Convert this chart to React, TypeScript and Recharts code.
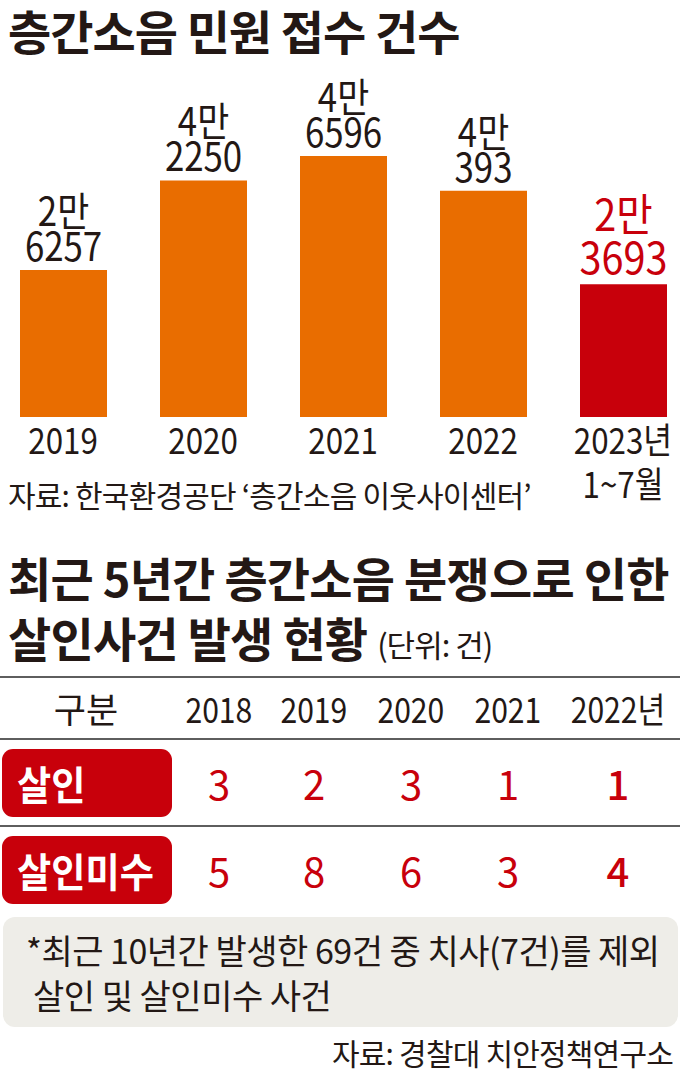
import React from 'react';
import { BarChart, Bar, XAxis, YAxis, Cell, LabelList } from 'recharts';

// 층간소음 민원 접수 건수
const CATEGORIES = ['2019', '2020', '2021', '2022', '2023년'];
const SUB_LABELS = ['', '', '', '', '1~7월'];
const COMPLAINTS = [26257, 42250, 46596, 40393, 23693];

// 살인사건 발생 현황 (단위: 건)
const TABLE_YEARS = ['2018', '2019', '2020', '2021', '2022년'];
const MURDER = [3, 2, 3, 1, 1];
const ATTEMPTED = [5, 8, 6, 3, 4];

const ORANGE = '#e96d00';
const RED = '#c8000b';
const INK = '#231815';
const FONT = "'Noto Sans CJK KR', 'Noto Sans', sans-serif";

const chartData = CATEGORIES.map((c, i) => ({ year: c, sub: SUB_LABELS[i], value: COMPLAINTS[i] }));
const lastIndex = COMPLAINTS.length - 1;

const Narrow = ({ k, children, origin = 'left' }: { k: number; children: React.ReactNode; origin?: string }) => (
  <span style={{ display: 'inline-block', transform: `scaleX(${k})`, transformOrigin: origin, whiteSpace: 'nowrap' }}>
    {children}
  </span>
);

const ValueLabel = (props: any) => {
  const { x, y, width, value, index } = props;
  const cx = x + width / 2;
  const man = Math.floor(value / 10000);
  const rest = value % 10000;
  const hot = index === lastIndex;
  return (
    <g transform={`translate(${cx},${y})`}>
      <text
        transform={`scale(${hot ? 0.9 : 0.87},1)`}
        textAnchor="middle"
        fontFamily={FONT}
        fontSize={hot ? 44 : 40}
        fill={hot ? RED : INK}
      >
        <tspan x={0} y={hot ? -53 : -44}>{`${man}만`}</tspan>
        <tspan x={0} y={hot ? -10 : -9}>{rest}</tspan>
      </text>
    </g>
  );
};

const YearTick = (props: any) => {
  const { x, y, payload, index } = props;
  const sub = SUB_LABELS[index];
  return (
    <g transform={`translate(${x},${y})`}>
      <text transform="scale(0.87,1)" textAnchor="middle" fontFamily={FONT} fontSize={36} fill={INK}>
        <tspan x={0} y={37}>{payload.value}</tspan>
        {sub && <tspan x={0} y={81}>{sub}</tspan>}
      </text>
    </g>
  );
};

const cols = '172px 94px 96px 98px 96px 124px';

const TableRow = ({ label, values, top }: { label: string; values: number[]; top: number }) => (
  <div
    style={{
      position: 'absolute',
      left: 0,
      top,
      width: 680,
      height: 68,
      display: 'grid',
      gridTemplateColumns: cols,
      alignItems: 'center',
    }}
  >
    <div
      style={{
        marginLeft: 2,
        height: 68,
        background: RED,
        borderRadius: 11,
        color: '#fff',
        fontWeight: 700,
        fontSize: 40,
        lineHeight: '68px',
        paddingLeft: 15,
        boxSizing: 'border-box',
      }}
    >
      <Narrow k={0.93}>{label}</Narrow>
    </div>
    {values.map((v, i) => (
      <div
        key={i}
        style={{
          textAlign: 'center',
          color: RED,
          fontSize: 40,
          fontWeight: i === values.length - 1 ? 500 : 400,
          lineHeight: '68px',
        }}
      >
        {v}
      </div>
    ))}
  </div>
);

const Rule = ({ top }: { top: number }) => (
  <div style={{ position: 'absolute', left: 0, top, width: 680, height: 2, background: '#5e5e5e' }} />
);

export default function App() {
  return (
    <div
      style={{
        position: 'absolute',
        left: 0,
        top: 0,
        width: 680,
        height: 1072,
        overflow: 'hidden',
        background: '#fff',
        fontFamily: FONT,
        color: INK,
      }}
    >
      <div style={{ position: 'absolute', left: 8, top: 2, fontSize: 47, fontWeight: 700, lineHeight: '56px', letterSpacing: -1 }}>
        층간소음 민원 접수 건수
      </div>

      <div style={{ position: 'absolute', left: -7, top: 59 }}>
        <BarChart width={700} height={458} data={chartData} margin={{ top: 78, right: 0, left: 0, bottom: 0 }}>
          <XAxis
            dataKey="year"
            height={100}
            axisLine={false}
            tickLine={false}
            tickSize={0}
            tickMargin={0}
            interval={0}
            tick={<YearTick />}
          />
          <YAxis hide domain={[0, 50000]} />
          <Bar dataKey="value" barSize={87} isAnimationActive={false}>
            {chartData.map((d, i) => (
              <Cell key={d.year} fill={i === lastIndex ? RED : ORANGE} />
            ))}
            <LabelList dataKey="value" content={<ValueLabel />} />
          </Bar>
        </BarChart>
      </div>

      <div style={{ position: 'absolute', left: 8, top: 472, fontSize: 30, lineHeight: '44px', letterSpacing: -0.8 }}>
        자료: 한국환경공단 ‘층간소음 이웃사이센터’
      </div>

      <div style={{ position: 'absolute', left: 8, top: 547, fontSize: 47, fontWeight: 700, lineHeight: '60px', letterSpacing: -0.8 }}>
        최근 5년간 층간소음 분쟁으로 인한
        <br />
        살인사건 발생 현황{' '}
        <span style={{ fontSize: 31, fontWeight: 400, letterSpacing: -1 }}>(단위: 건)</span>
      </div>

      <Rule top={676} />
      <div
        style={{
          position: 'absolute',
          left: 0,
          top: 678,
          width: 680,
          height: 60,
          display: 'grid',
          gridTemplateColumns: cols,
          alignItems: 'center',
          fontSize: 35,
          lineHeight: '60px',
        }}
      >
        <div style={{ textAlign: 'center' }}>구분</div>
        {TABLE_YEARS.map((y) => (
          <div key={y} style={{ textAlign: 'center' }}>
            <Narrow k={0.86} origin="center">{y}</Narrow>
          </div>
        ))}
      </div>
      <Rule top={738} />
      <TableRow label="살인" values={MURDER} top={749} />
      <Rule top={825} />
      <TableRow label="살인미수" values={ATTEMPTED} top={836} />

      <div
        style={{
          position: 'absolute',
          left: 3,
          top: 917,
          width: 675,
          height: 110,
          background: '#eeede8',
          borderRadius: 12,
          fontSize: 34,
          lineHeight: '45px',
          letterSpacing: -0.5,
          paddingTop: 10,
          paddingLeft: 23,
          boxSizing: 'border-box',
        }}
      >
        *최근 10년간 발생한 69건 중 치사(7건)를 제외
        <br />
        <span style={{ paddingLeft: 7 }}>살인 및 살인미수 사건</span>
      </div>

      <div
        style={{
          position: 'absolute',
          right: 7,
          top: 1033,
          fontSize: 30,
          lineHeight: '38px',
          letterSpacing: -0.8,
        }}
      >
        자료: 경찰대 치안정책연구소
      </div>
    </div>
  );
}
